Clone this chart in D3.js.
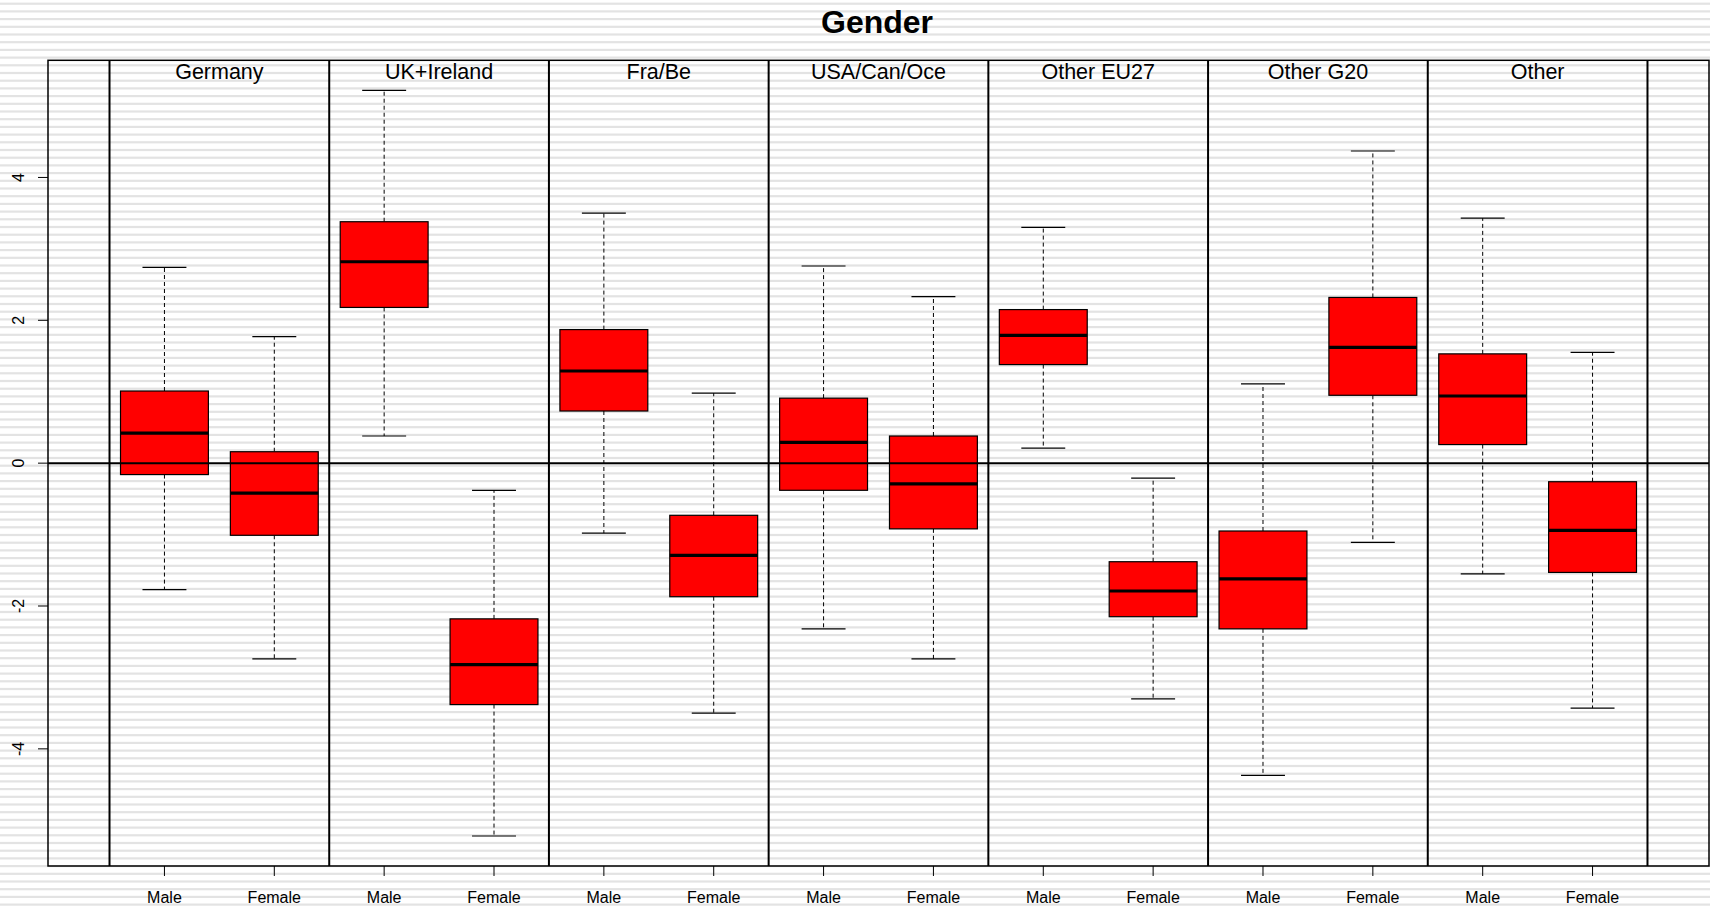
<!DOCTYPE html>
<html>
<head>
<meta charset="utf-8">
<script src="https://cdn.jsdelivr.net/npm/d3@7"></script>
<style>
  html, body { margin: 0; padding: 0; background: #fff; }
  svg { display: block; }
  text { font-family: "Liberation Sans", Arial, Helvetica, sans-serif; fill: #000; }
</style>
</head>
<body>
<svg id="chart" width="1710" height="910"></svg>
<script>
// Regions shown as panels, each with a Male and a Female box
const regions = ["Germany", "UK+Ireland", "Fra/Be", "USA/Can/Oce", "Other EU27", "Other G20", "Other"];
const genders = ["Male", "Female"];

// Box statistics per region: [lower whisker, Q1, median, Q3, upper whisker]
const maleStats = [
  [-1.77, -0.16, 0.42, 1.01, 2.74],
  [0.38, 2.18, 2.82, 3.38, 5.22],
  [-0.98, 0.73, 1.29, 1.87, 3.50],
  [-2.32, -0.38, 0.29, 0.91, 2.76],
  [0.21, 1.38, 1.79, 2.15, 3.30],
  [-4.37, -2.32, -1.62, -0.95, 1.11],
  [-1.55, 0.26, 0.94, 1.53, 3.43]
];
const femaleStats = [
  [-2.74, -1.01, -0.42, 0.16, 1.77],
  [-5.22, -3.38, -2.82, -2.18, -0.38],
  [-3.50, -1.87, -1.29, -0.73, 0.98],
  [-2.74, -0.92, -0.29, 0.38, 2.33],
  [-3.30, -2.15, -1.79, -1.38, -0.21],
  [-1.11, 0.95, 1.62, 2.32, 4.37],
  [-3.43, -1.53, -0.94, -0.26, 1.55]
];

const yTicks = [-4, -2, 0, 2, 4];
const chartTitle = "Gender";

const svg = d3.select("#chart");
const W = 1710, H = 910;
const plot = { left: 48, right: 1709, top: 60.3, bottom: 866 };

// Striped page background
const stripeGap = 7.7;
svg.append("rect").attr("width", W).attr("height", H).attr("fill", "#fff");
svg.append("g").selectAll("rect")
  .data(d3.range(0, Math.ceil(H / stripeGap)))
  .join("rect")
  .attr("x", 0).attr("width", W)
  .attr("y", k => 2.6 + k * stripeGap)
  .attr("height", 2.2)
  .attr("fill", "#e3e3e3");

// Scales: box positions 1..14, region dividers halfway between pairs
const x = d3.scaleLinear().domain([-0.06, 15.06]).range([plot.left, plot.right]);
const y = d3.scaleLinear().domain([-5.64, 5.64]).range([plot.bottom, plot.top]);

const boxes = [];
regions.forEach((r, i) => {
  boxes.push({ region: r, gender: genders[0], pos: 2 * i + 1, s: maleStats[i] });
  boxes.push({ region: r, gender: genders[1], pos: 2 * i + 2, s: femaleStats[i] });
});

const boxW = 0.8, capW = 0.4;

// Region divider lines
svg.append("g").selectAll("line")
  .data(d3.range(0, regions.length + 1))
  .join("line")
  .attr("x1", i => x(2 * i + 0.5)).attr("x2", i => x(2 * i + 0.5))
  .attr("y1", plot.top).attr("y2", plot.bottom)
  .attr("stroke", "#000").attr("stroke-width", 2);

// Region labels at the top of each panel
svg.append("g").selectAll("text")
  .data(regions)
  .join("text")
  .attr("x", (d, i) => x(2 * i + 1.5))
  .attr("y", 78.5)
  .attr("text-anchor", "middle")
  .attr("font-size", 21.5)
  .text(d => d);

// Boxes
const g = svg.append("g").selectAll("g").data(boxes).join("g");

// dashed whiskers
g.append("line")
  .attr("x1", d => x(d.pos)).attr("x2", d => x(d.pos))
  .attr("y1", d => y(d.s[3])).attr("y2", d => y(d.s[4]))
  .attr("stroke", "#000").attr("stroke-width", 1).attr("stroke-dasharray", "4,3");
g.append("line")
  .attr("x1", d => x(d.pos)).attr("x2", d => x(d.pos))
  .attr("y1", d => y(d.s[1])).attr("y2", d => y(d.s[0]))
  .attr("stroke", "#000").attr("stroke-width", 1).attr("stroke-dasharray", "4,3");
// whisker caps
[0, 4].forEach(k => {
  g.append("line")
    .attr("x1", d => x(d.pos - capW / 2)).attr("x2", d => x(d.pos + capW / 2))
    .attr("y1", d => y(d.s[k])).attr("y2", d => y(d.s[k]))
    .attr("stroke", "#000").attr("stroke-width", 1.2);
});
// box body
g.append("rect")
  .attr("x", d => x(d.pos - boxW / 2))
  .attr("width", d => x(d.pos + boxW / 2) - x(d.pos - boxW / 2))
  .attr("y", d => y(d.s[3]))
  .attr("height", d => y(d.s[1]) - y(d.s[3]))
  .attr("fill", "#ff0000").attr("stroke", "#000").attr("stroke-width", 1.2);
// median
g.append("line")
  .attr("x1", d => x(d.pos - boxW / 2)).attr("x2", d => x(d.pos + boxW / 2))
  .attr("y1", d => y(d.s[2])).attr("y2", d => y(d.s[2]))
  .attr("stroke", "#000").attr("stroke-width", 3.2);

// Zero reference line
svg.append("line")
  .attr("x1", plot.left).attr("x2", plot.right)
  .attr("y1", y(0)).attr("y2", y(0))
  .attr("stroke", "#000").attr("stroke-width", 2);

// Plot frame
svg.append("rect")
  .attr("x", plot.left).attr("y", plot.top)
  .attr("width", plot.right - plot.left).attr("height", plot.bottom - plot.top)
  .attr("fill", "none").attr("stroke", "#000").attr("stroke-width", 1.5);

// Y axis: ticks and rotated labels
const yAxis = svg.append("g");
yAxis.selectAll("line").data(yTicks).join("line")
  .attr("x1", plot.left - 10).attr("x2", plot.left)
  .attr("y1", d => y(d)).attr("y2", d => y(d))
  .attr("stroke", "#000").attr("stroke-width", 1);
yAxis.selectAll("text").data(yTicks).join("text")
  .attr("transform", d => `translate(24,${y(d)}) rotate(-90)`)
  .attr("text-anchor", "middle")
  .attr("font-size", 16)
  .text(d => d);

// X axis: ticks and gender labels
const xAxis = svg.append("g");
xAxis.selectAll("line").data(boxes).join("line")
  .attr("x1", d => x(d.pos)).attr("x2", d => x(d.pos))
  .attr("y1", plot.bottom).attr("y2", plot.bottom + 10)
  .attr("stroke", "#000").attr("stroke-width", 1);
xAxis.selectAll("text").data(boxes).join("text")
  .attr("x", d => x(d.pos)).attr("y", 903)
  .attr("text-anchor", "middle")
  .attr("font-size", 16)
  .text(d => d.gender);

// Title
svg.append("text")
  .attr("x", 877).attr("y", 33.3)
  .attr("text-anchor", "middle")
  .attr("font-size", 32).attr("font-weight", "bold")
  .text(chartTitle);
</script>
</body>
</html>
